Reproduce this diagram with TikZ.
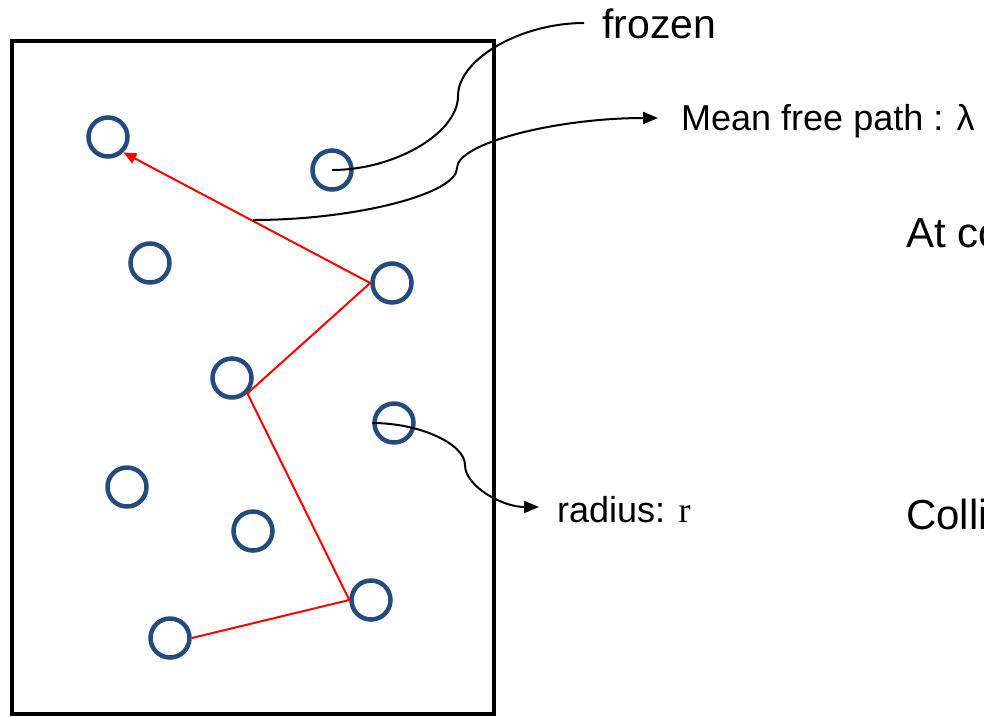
\documentclass[tikz,border=0pt]{standalone}
\usepackage{fontspec}
\setmainfont{Liberation Sans}
\newfontfamily\timesf{Liberation Serif}
\usetikzlibrary{arrows.meta}
\definecolor{ringblue}{RGB}{35,75,125}
\begin{document}
\begin{tikzpicture}[x=1pt,y=-1pt,
  particle/.style={circle, draw=ringblue, line width=4.5pt, minimum size=39pt, inner sep=0pt},
  pathline/.style={red, line width=2pt},
  connector/.style={black, line width=2pt},
  tip/.style={-{Triangle[length=15pt,width=12pt]}},
  label/.style={anchor=base west, inner sep=0pt}]
\useasboundingbox (0,0) rectangle (984,716);
\clip (0,0) rectangle (984,716);
% container
\draw[line width=4.5pt] (12,41) rectangle (494,714);
% particles
\node[particle] (p1) at (108,137) {};
\node[particle] (p2) at (332,170) {};
\node[particle] (p3) at (150,263) {};
\node[particle] (p4) at (392,283) {};
\node[particle] (p5) at (232,378) {};
\node[particle] (p6) at (394,423) {};
\node[particle] (p7) at (127,487) {};
\node[particle] (p8) at (253,531) {};
\node[particle] (p9) at (371,600) {};
\node[particle] (p10) at (170,638) {};
% free path
\draw[pathline, -{Triangle[length=13pt,width=11pt]}] (p10.east) -- (p9.west) -- (p5.south east) -- (p4.west) -- (p1.south east);
% labels
\node[label, font=\fontsize{41}{41}\selectfont] (frozen) at (602,38) {frozen};
\node[label, font=\fontsize{36}{36}\selectfont] (mfp) at (681,130) {Mean free path : λ};
\node[label, font=\fontsize{42}{42}\selectfont] (atco) at (906,247) {At co};
\node[label, font=\fontsize{36}{36}\selectfont] (rad) at (557,522) {radius: {\timesf r}};
\node[label, font=\fontsize{42}{42}\selectfont] (colli) at (906,529) {Colli};
% connector end points
\coordinate (fzend) at (584,23);
\coordinate (mfpstart) at (253,220);
\coordinate (mfpend) at (658,118);
\coordinate (radend) at (539,507);
% connectors
\draw[connector] (p2.center) .. controls (395,170) and (458,133) .. (458,96)
  .. controls (458,59) and (521,23) .. (fzend);
\draw[connector, tip] (mfpstart) .. controls (355,220) and (457,194) .. (457,168)
  .. controls (457,143) and (557,118) .. (mfpend);
\draw[connector, tip] (p6.west) .. controls (420,423) and (465,444) .. (465,465)
  .. controls (465,486) and (502,507) .. (radend);
\end{tikzpicture}
\end{document}
